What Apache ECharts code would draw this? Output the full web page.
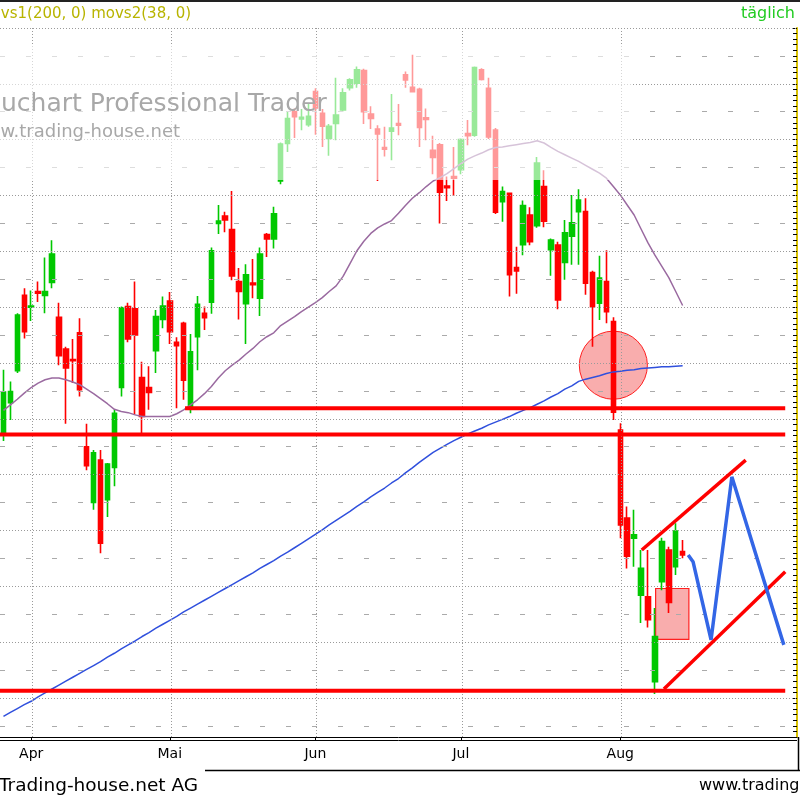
<!DOCTYPE html>
<html><head><meta charset="utf-8">
<script src="https://cdn.jsdelivr.net/npm/echarts@6/dist/echarts.min.js"></script>
<style>html,body{margin:0;padding:0;background:#fff;overflow:hidden}#c{width:800px;height:800px}</style>
</head><body><div id="c"></div>
<script>
// ---- categories: trading days ----
const categories = [
'26.03.','27.03.','28.03.','31.03.',
'01.04.','02.04.','03.04.','04.04.','07.04.','08.04.','09.04.','10.04.','11.04.','14.04.','15.04.','16.04.','17.04.','22.04.','23.04.','24.04.','25.04.','28.04.','29.04.','30.04.',
'02.05.','05.05.','06.05.','07.05.','08.05.','09.05.','12.05.','13.05.','14.05.','15.05.','16.05.','19.05.','20.05.','21.05.','22.05.','23.05.','26.05.','27.05.','28.05.','29.05.','30.05.',
'02.06.','03.06.','04.06.','05.06.','06.06.','09.06.','10.06.','11.06.','12.06.','13.06.','16.06.','17.06.','18.06.','19.06.','20.06.','23.06.','24.06.','25.06.','26.06.','27.06.','30.06.',
'01.07.','02.07.','03.07.','04.07.','07.07.','08.07.','09.07.','10.07.','11.07.','14.07.','15.07.','16.07.','17.07.','18.07.','21.07.','22.07.','23.07.','24.07.','25.07.','28.07.','29.07.','30.07.','31.07.',
'01.08.','04.08.','05.08.','06.08.','07.08.','08.08.','11.08.','12.08.','13.08.','14.08.','15.08.','18.08.','19.08.','20.08.','21.08.','22.08.','25.08.','26.08.','27.08.','28.08.','29.08.',
'01.09.','02.09.','03.09.','04.09.','05.09.'
];
const monthLabels = {4:'Apr', 24:'Mai', 45:'Jun', 66:'Jul', 89:'Aug'};

// ---- candles: [open, close, low, high] ----
const candles = [
[57.5,64.8,56.0,68.8],[62.9,64.9,59.8,66.7],[68.6,78.6,68.2,78.9],[82.1,75.6,74.4,83.4],[80.0,80.2,77.5,83.0],
[82.8,82.5,80.9,84.6],[82.1,82.8,78.9,88.9],[84.4,89.5,83.4,92.0],[78.2,71.3,69.6,80.8],[72.5,69.1,59.1,72.9],
[70.6,70.4,66.4,74.3],[75.4,65.2,64.0,78.0],[55.0,51.6,50.8,59.1],[45.0,53.9,43.7,54.4],[52.6,37.7,35.9,54.4],
[45.5,51.9,42.4,52.1],[51.3,61.0,47.9,61.6],[65.6,79.9,64.0,80.1],[80.1,74.3,73.7,80.8],[79.7,75.0,60.7,84.6],
[67.4,60.4,57.1,70.2],[65.6,64.7,61.6,69.4],[72.2,78.3,68.2,79.5],[77.8,80.2,76.2,81.9],[81.1,75.6,73.4,82.7],
[73.7,73.1,61.9,74.6],[77.1,66.9,63.4,77.4],[62.2,72.0,61.0,75.2],[74.7,80.5,68.7,82.0],[78.9,78.1,75.9,80.1],
[80.9,90.1,78.8,90.7],[95.0,95.4,93.1,98.3],[96.3,95.6,93.4,97.1],[93.9,85.6,84.8,100.8],[84.6,82.8,77.8,87.0],
[80.6,85.8,73.4,87.7],[84.3,84.0,81.6,88.6],[81.6,89.5,78.4,90.7],[93.0,92.2,89.0,93.3],[92.2,96.7,90.5,98.0],
[102.6,109.2,102.0,109.5],[109.3,113.8,107.8,115.1],[115.0,114.1,110.3,115.6],[113.7,114.0,111.7,115.5],[112.7,114.2,112.3,116.4],
[118.6,115.7,110.9,119.2],[114.7,112.4,108.7,115.5],[110.2,112.4,107.1,112.8],[112.9,114.4,109.9,121.1],[115.3,118.4,115.0,119.2],
[119.3,120.7,118.8,121.0],[120.1,122.5,119.3,123.1],[122.4,115.0,112.8,122.7],[114.6,113.8,111.9,116.0],[111.9,111.0,102.6,112.6],
[108.6,108.3,107.0,112.3],[111.5,112.1,106.3,118.2],[112.9,112.6,110.8,116.4],[121.6,120.7,119.3,122.2],[119.4,118.6,118.6,125.2],
[119.0,112.2,108.7,119.3],[113.9,113.6,109.9,115.6],[108.1,106.8,103.8,110.7],[109.1,100.6,95.0,109.4],[101.7,101.4,99.0,103.4],
[103.4,103.1,99.9,108.7],[104.6,110.0,103.8,110.2],[111.1,110.7,109.0,113.5],[110.8,122.9,110.5,123.1],[122.5,120.8,120.6,122.8],
[119.2,110.5,110.1,121.1],[111.7,97.0,96.7,112.1],[98.9,100.7,95.3,101.6],[100.4,85.8,81.9,100.4],[87.1,86.5,82.4,90.8],
[91.2,98.2,89.3,99.1],[96.5,91.7,91.1,97.9],[94.6,105.8,94.2,106.9],[101.6,95.4,94.3,104.5],[90.3,92.0,85.6,92.3],
[91.1,81.3,79.6,91.7],[88.0,93.3,84.9,95.6],[92.7,95.1,87.6,100.1],[97.1,99.2,87.6,101.1],[97.1,84.3,82.2,99.5],
[86.2,80.1,72.9,86.5],[80.7,85.2,77.7,89.2],[84.6,79.2,77.1,90.2],[77.4,61.2,59.8,78.2],[58.0,41.0,38.6,59.2],
[42.2,35.4,33.2,44.3],[38.6,39.2,33.5,43.7],[28.4,33.2,23.4,36.5],[28.1,24.0,22.6,36.5],[12.9,21.0,10.7,26.1],
[30.8,38.0,29.3,38.7],[36.5,27.1,25.2,37.1],[33.5,39.9,32.0,41.3],[36.2,35.6,35.0,38.3]
];

// ---- moving averages ----
const movs1 = [6.7,7.4,8.1,8.8,9.4,10.2,10.9,11.6,12.3,13.0,13.7,14.4,15.1,15.8,16.5,17.3,18.0,18.8,19.5,20.2,
21.0,21.7,22.5,23.2,23.9,24.6,25.4,26.1,26.8,27.5,28.2,28.9,29.6,30.3,31.0,31.7,32.4,33.2,33.9,34.6,
35.4,36.1,36.9,37.7,38.5,39.3,40.1,41.0,41.8,42.6,43.4,44.3,45.1,46.0,46.8,47.6,48.5,49.3,50.3,51.2,
52.2,53.1,54.0,54.7,55.4,56.1,56.7,57.3,57.8,58.3,58.9,59.4,59.9,60.4,61.0,61.5,62.0,62.6,63.2,63.9,
64.5,65.3,65.9,66.7,67.1,67.4,67.7,68.1,68.4,68.5,68.7,68.8,69.0,69.1,69.2,69.3,69.3,69.4,69.5];
const movs2 = [61.5,62.5,63.5,64.6,65.6,66.4,67.0,67.3,67.3,67.0,66.6,66.1,65.3,64.5,63.6,62.7,61.7,61.3,61.1,60.7,
60.4,60.4,60.4,60.4,60.4,60.9,61.6,62.5,63.4,64.5,65.8,67.3,68.6,69.6,70.5,71.6,72.6,73.8,74.7,75.4,
76.7,77.5,78.3,79.2,80.0,80.8,81.7,82.8,83.8,85.5,87.8,90.1,91.8,93.2,94.2,94.9,95.5,96.8,98.2,99.5,
100.5,101.6,102.6,103.2,103.9,104.8,105.7,106.5,107.1,107.6,108.2,108.6,108.7,108.9,109.1,109.3,109.5,109.8,109.4,108.6,
107.9,107.3,106.7,106.1,105.4,104.7,104.0,103.1,101.6,100.1,98.3,96.5,94.0,91.5,89.3,87.3,85.3,82.8,80.3];

// ---- grid line values ----
const majorGrid = [10,20,30,40,50,60,70,80,90,100,110,120,130];
const minorGrid = [5,15,25,35,45,55,65,75,85,95,105,115,125];

// ---- drawn annotations (x = trading-day index, y = price) ----
const supportLines = [[[26.2,61.9],[112.8,61.9]], [[-0.5,57.2],[112.8,57.2]], [[-0.5,11.3],[112.8,11.3]]];
const channelUpper = [[92.1,36.5],[107.1,52.6]];
const channelLower = [[95.3,11.6],[112.8,32.6]];
const projection = [[98.8,35.6],[99.5,34.4],[102.1,20.4],[105.1,49.6],[112.6,19.5]];
const circleMark = [[88.0,69.6,6.1]];
const rectMark = [[94.1,29.6,98.9,20.5]];

const N = categories.length;
const monthIdx = Object.keys(monthLabels).map(Number);
const FONT = 'DejaVu Sans';

const chart = echarts.init(document.getElementById('c'), null, {renderer:'canvas'});
const isMonth = (i) => monthLabels[i] !== undefined;

const gridMarks = [];
majorGrid.forEach(v => gridMarks.push({yAxis:v, lineStyle:{type:[1,2], color:'#9a9a9a', width:1}}));
minorGrid.forEach(v => gridMarks.push({yAxis:v, lineStyle:{type:[5,21], color:'#aaaaaa', width:1}}));
monthIdx.forEach(i => gridMarks.push({xAxis:i + 0.15, lineStyle:{type:[1,2], color:'#9a9a9a', width:1}}));

const series = [
  {type:'line', xAxisIndex:1, data:[], z:0, silent:true,
   markLine:{symbol:'none', silent:true, animation:false, label:{show:false}, data:gridMarks}},
  {type:'custom', xAxisIndex:1, z:1, silent:true, data:circleMark,
   renderItem:(p, api) => {
     const c = api.coord([api.value(0), api.value(1)]);
     const r = api.size([0, api.value(2)])[1];
     return {type:'circle', shape:{cx:c[0], cy:c[1], r:r},
       style:{fill:'rgba(240,60,60,0.42)', stroke:'#ff2020', lineWidth:1}};
   }},
  {type:'custom', xAxisIndex:1, z:1, silent:true, data:rectMark,
   renderItem:(p, api) => {
     const a = api.coord([api.value(0), api.value(1)]);
     const b = api.coord([api.value(2), api.value(3)]);
     return {type:'rect', shape:{x:a[0], y:a[1], width:b[0]-a[0], height:b[1]-a[1]},
       style:{fill:'rgba(240,60,60,0.42)', stroke:'#ff2020', lineWidth:1.2}};
   }},
  {type:'candlestick', xAxisIndex:0, data:candles, barWidth:5, barMaxWidth:8, z:3,
   itemStyle:{color:'#00c800', color0:'#ff0000', borderColor:'#00c800', borderColor0:'#ff0000', borderWidth:1.6}},
  {type:'line', xAxisIndex:0, data:movs2, symbol:'none', z:4, silent:true,
   lineStyle:{color:'#9a6aa0', width:1.5}},
  {type:'line', xAxisIndex:0, data:movs1, symbol:'none', z:4, silent:true,
   lineStyle:{color:'#3050dd', width:1.5}}
];
supportLines.forEach(seg => series.push({type:'line', xAxisIndex:1, data:seg, symbol:'none', z:5, silent:true,
   lineStyle:{color:'#ff0000', width:4}}));
[channelUpper, channelLower].forEach(seg => series.push({type:'line', xAxisIndex:1, data:seg, symbol:'none', z:5, silent:true,
   lineStyle:{color:'#ff0000', width:3.5}}));
series.push({type:'line', xAxisIndex:1, data:projection, symbol:'none', z:5, silent:true,
   lineStyle:{color:'#3366e6', width:3.5}});

const option = {
  animation:false,
  backgroundColor:'#ffffff',
  grid:{left:0, right:3, top:28, bottom:63},
  xAxis:[
    {type:'category', data:categories, boundaryGap:true,
     axisLine:{onZero:false, lineStyle:{color:'#000', width:1}},
     axisTick:{show:true, alignWithLabel:true, length:4, interval:isMonth, lineStyle:{color:'#000'}},
     axisLabel:{interval:isMonth, formatter:(v, i) => monthLabels[i] || '', fontFamily:FONT, fontSize:14, color:'#000', margin:10},
     splitLine:{show:false}},
    {type:'value', min:-0.5, max:N-0.5, show:false, axisLine:{onZero:false}}
  ],
  yAxis:{type:'value', position:'right', min:3, max:130, interval:1,
    axisLine:{show:true, onZero:false, lineStyle:{color:'#d8c000', width:2}},
    axisTick:{show:true, inside:true, length:4, lineStyle:{color:'#000'}},
    axisLabel:{show:false}, splitLine:{show:false}},
  series:series,
  graphic:[
    {type:'rect', left:0, top:0, shape:{width:800, height:2}, style:{fill:'#222'}, z:100},
    {type:'text', x:-23, y:14, style:{text:'movs1(200, 0) movs2(38, 0)', fill:'#b8b400', font:'15px "DejaVu Sans"', textVerticalAlign:'middle'}, z:100},
    {type:'text', x:795, y:14, style:{text:'täglich', fill:'#22cc22', font:'16px "DejaVu Sans"', textAlign:'right', textVerticalAlign:'middle'}, z:100},
    {type:'rect', x:0, y:44, shape:{width:632, height:136}, style:{fill:'rgba(255,255,255,0.6)'}, z:100},
    {type:'text', x:1, y:104, style:{text:'uchart Professional Trader', fill:'#a8a8a8', font:'25px "DejaVu Sans"', textVerticalAlign:'middle'}, z:101},
    {type:'text', x:-29, y:132, style:{text:'www.trading-house.net', fill:'#a8a8a8', font:'18px "DejaVu Sans"', textVerticalAlign:'middle'}, z:101},
    {type:'line', shape:{x1:0, y1:740.5, x2:797, y2:740.5}, style:{stroke:'#000', lineWidth:1}, z:100},
    {type:'line', shape:{x1:205, y1:770.5, x2:800, y2:770.5}, style:{stroke:'#000', lineWidth:1.5}, z:100},
    {type:'line', shape:{x1:798.5, y1:737, x2:798.5, y2:771}, style:{stroke:'#000', lineWidth:1.5}, z:100},
    {type:'text', x:-1, y:786, style:{text:'Trading-house.net AG', fill:'#000', font:'18.5px "DejaVu Sans"', textVerticalAlign:'middle'}, z:100},
    {type:'text', x:699, y:786, style:{text:'www.trading-house.net', fill:'#000', font:'16px "DejaVu Sans"', textVerticalAlign:'middle'}, z:100}
  ]
};
chart.setOption(option);
</script>
</body></html>
